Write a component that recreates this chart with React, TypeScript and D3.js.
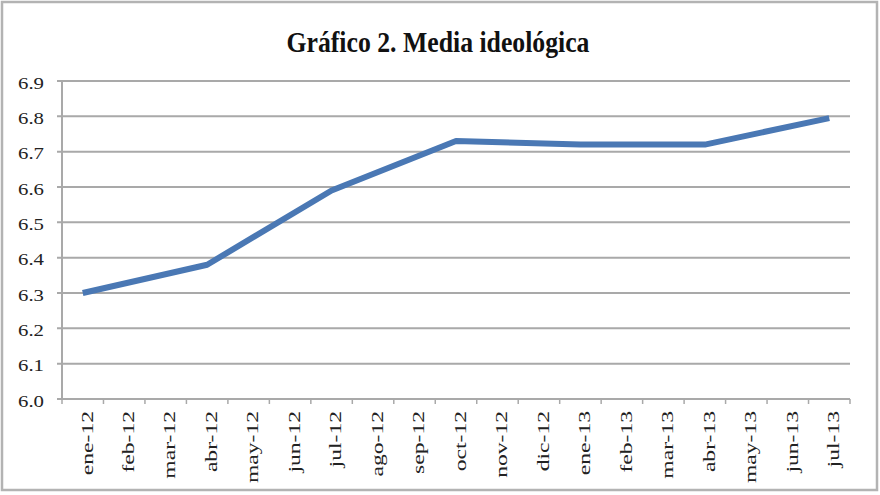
import React from "react";
import * as d3 from "d3";

const title = "Gráfico 2. Media ideológica";
const months = [
  "ene-12", "feb-12", "mar-12", "abr-12", "may-12", "jun-12", "jul-12", "ago-12", "sep-12",
  "oct-12", "nov-12", "dic-12", "ene-13", "feb-13", "mar-13", "abr-13", "may-13", "jun-13", "jul-13",
];
const values: (number | null)[] = [
  6.30, null, null, 6.38, null, null, 6.59, null, null,
  6.73, null, null, 6.72, null, null, 6.72, null, null, 6.795,
];
const yTicks = [6.0, 6.1, 6.2, 6.3, 6.4, 6.5, 6.6, 6.7, 6.8, 6.9];

const W = 880;
const H = 495;
const left = 62;
const right = 850;
const top = 81;
const bottom = 399;

export default function App() {
  const x = d3.scaleBand<string>().domain(months).range([left, right]).padding(0);
  const y = d3.scaleLinear().domain([6.0, 6.9]).range([bottom, top]);
  const bw = x.bandwidth();
  const pts = months
    .map((m, i) => ({ m, v: values[i] }))
    .filter((d) => d.v !== null) as { m: string; v: number }[];
  const line = d3
    .line<{ m: string; v: number }>()
    .x((d) => (x(d.m) as number) + bw / 2)
    .y((d) => y(d.v));
  const grid = "#a9a9a9";
  const boundaries = months.map((m) => x(m) as number).concat([right]);
  const font = "'Liberation Serif', 'Times New Roman', serif";

  return (
    <svg
      width={W}
      height={H}
      style={{ position: "absolute", left: 0, top: 0, background: "#fff" }}
    >
      <rect x={0} y={0} width={W} height={H} fill="#fff" />
      <rect x={2} y={2} width={875} height={488} fill="none" stroke="#b3b3b3" strokeWidth={2.5} />
      <text
        x={438}
        y={52}
        textAnchor="middle"
        fontFamily={font}
        fontWeight="bold"
        fontSize={29}
        textLength={303}
        lengthAdjust="spacingAndGlyphs"
        fill="#111"
      >
        {title}
      </text>
      {yTicks.map((t) => (
        <g key={t}>
          <line x1={left - 5} x2={right} y1={y(t)} y2={y(t)} stroke={grid} strokeWidth={2} />
          <text
            transform={`translate(44,${y(t) + 7.5}) scale(1.3,1)`}
            textAnchor="end"
            fontFamily={font}
            fontSize={16}
            fill="#222"
          >
            {t.toFixed(1)}
          </text>
        </g>
      ))}
      <line x1={left} x2={left} y1={top} y2={bottom} stroke={grid} strokeWidth={2} />
      <line x1={left} x2={right} y1={bottom} y2={bottom} stroke={grid} strokeWidth={2} />
      {boundaries.map((bx, i) => (
        <line key={i} x1={bx} x2={bx} y1={bottom} y2={bottom + 5} stroke={grid} strokeWidth={1.5} />
      ))}
      {months.map((m) => {
        const cx = (x(m) as number) + bw / 2 + 3.5;
        return (
          <text
            key={m}
            transform={`translate(${cx},${411}) rotate(-90) scale(1.35,1)`}
            textAnchor="end"
            dominantBaseline="central"
            fontFamily={font}
            fontSize={17.5}
            fill="#222"
          >
            {m}
          </text>
        );
      })}
      <path
        d={line(pts) || ""}
        fill="none"
        stroke="#4a78b4"
        strokeWidth={6}
        strokeLinejoin="round"
        strokeLinecap="butt"
      />
    </svg>
  );
}
